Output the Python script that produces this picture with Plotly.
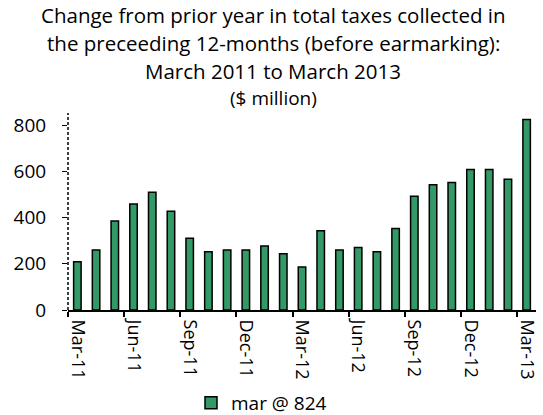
import plotly.graph_objects as go

categories = ["Mar-11","Apr-11","May-11","Jun-11","Jul-11","Aug-11","Sep-11","Oct-11","Nov-11",
              "Dec-11","Jan-12","Feb-12","Mar-12","Apr-12","May-12","Jun-12","Jul-12","Aug-12",
              "Sep-12","Oct-12","Nov-12","Dec-12","Jan-13","Feb-13","Mar-13"]
values = [209, 259, 385, 458, 509, 427, 310, 252, 259, 259, 277, 243, 186, 343, 259, 270, 252,
          352, 492, 542, 551, 608, 608, 566, 824]
y_ticks = [0, 200, 400, 600, 800]
series_name = "mar @ 824"
title_lines = ["Change from prior year in total taxes collected in",
               "the preceeding 12-months (before earmarking):",
               "March 2011 to March 2013"]
subtitle = "($ million)"

FONT = "Open Sans"
fig = go.Figure()
fig.add_trace(go.Bar(
    x=categories, y=values, name=series_name,
    marker=dict(color="#339966", line=dict(color="black", width=1.5)),
    showlegend=True,
))

top_px, bottom_px = 113, 310
left_px, right_px = 68, 536
h = bottom_px - top_px
w = right_px - left_px
def py(p):
    return (bottom_px - p) / h
def px(p):
    return (p - left_px) / w

annotations = []
for line, ypx in zip(title_lines, [15.5, 43, 71]):
    annotations.append(dict(text=line, x=px(273), xref="paper", xanchor="center", y=py(ypx), yref="paper",
                            yanchor="middle", showarrow=False, font=dict(family=FONT, size=20.5, color="black")))
annotations.append(dict(text=subtitle, x=px(273), xref="paper", xanchor="center", y=py(98), yref="paper",
                        yanchor="middle", showarrow=False, font=dict(family=FONT, size=19, color="black")))

fig.update_layout(
    width=543, height=415,
    margin=dict(l=left_px, r=543 - right_px, t=top_px, b=415 - bottom_px, autoexpand=False),
    paper_bgcolor="white", plot_bgcolor="white",
    font=dict(family=FONT, size=18, color="black"),
    bargap=0.6,
    annotations=annotations,
    showlegend=True,
    legend=dict(orientation="h", x=px(191), xanchor="left", y=py(403), yanchor="middle",
                font=dict(family=FONT, size=19), itemwidth=30),
    shapes=[dict(type="line", xref="paper", yref="paper", x0=0, x1=0, y0=0, y1=1,
                 line=dict(color="black", width=1.5, dash="3px,2px"))],
)
fig.update_xaxes(
    type="category", tickson="boundaries", dtick=3, ticks="outside", ticklen=5, tickwidth=1.5,
    tickcolor="black", tickangle=90, showline=True, linecolor="black", linewidth=2,
    showgrid=False, tickfont=dict(family=FONT, size=18), range=[-0.5, 24.5], automargin=False,
    ticklabelstandoff=4,
)
fig.update_yaxes(
    range=[0, 852], tickvals=y_ticks, ticks="outside", ticklen=5, tickwidth=1, tickcolor="black",
    showline=False, showgrid=False, zeroline=False, tickfont=dict(family=FONT, size=19),
    automargin=False, ticklabelstandoff=12,
)
fig.write_html("out.html", post_script="document.body.style.margin='0px';",
               config={"displayModeBar": False})
